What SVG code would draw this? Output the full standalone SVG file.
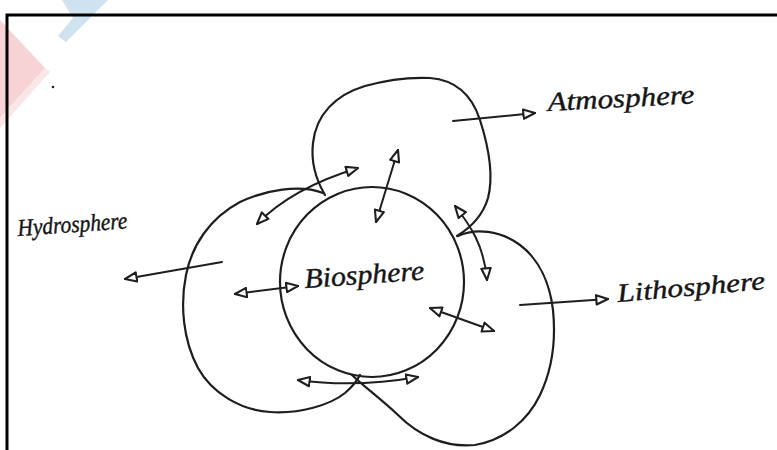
<svg xmlns="http://www.w3.org/2000/svg" width="777" height="450" viewBox="0 0 777 450">
  <style>
    .sphere { fill: none; stroke: #1e1e1e; stroke-width: 2.2; stroke-linecap: round; stroke-linejoin: round; }
    .link { fill: none; stroke: #1e1e1e; stroke-width: 2; stroke-linecap: round; }
    .label { font-family: "Liberation Serif", "DejaVu Serif", serif; font-style: italic; fill: #151515; stroke: #151515; stroke-width: 0.4; }
  </style>
  <defs>
    <marker id="head" viewBox="0 0 12 10" refX="11" refY="5" markerWidth="14" markerHeight="12" markerUnits="userSpaceOnUse" orient="auto-start-reverse">
      <path d="M1,1 L11,5 L1,9 Z" fill="#ffffff" stroke="#1e1e1e" stroke-width="1.8" stroke-linejoin="round"/>
    </marker>
  </defs>

  <rect width="777" height="450" fill="#ffffff"/>

  <!-- faint corner emblem -->
  <g id="emblem" opacity="0.9">
    <polygon points="0,20 45,68 0,118" fill="#f7cfd1"/>
    <polygon points="0,118 45,68 50,72 0,128" fill="#fbe4e5"/>
    <polygon points="62,0 108,0 66,42 58,36 73,18" fill="#c9dfee"/>
  </g>

  <!-- page frame -->
  <path d="M7,450 L7,15 L777,15" fill="none" stroke="#000000" stroke-width="3"/>
  <circle cx="53" cy="87" r="1.3" fill="#222222"/>

  <g id="atmosphere">
    <path class="sphere" d="M325,195 C315,178 311,160 313,143 C316,115 335,95 365,86 C390,79 410,77 430,78 C455,80 472,95 480,120 C488,145 494,175 488,198 C483,215 470,228 457,236"/>
    <text class="label" x="548" y="111" font-size="27" textLength="147" lengthAdjust="spacingAndGlyphs" transform="rotate(-3 548 111)">Atmosphere</text>
  </g>

  <g id="hydrosphere">
    <path class="sphere" d="M323,193 C300,184 265,190 240,202 C210,218 192,245 186,275 C180,305 183,340 198,368 C212,393 240,410 270,412 C300,414 330,405 345,393 C352,387 357,381 360,375"/>
    <text class="label" x="18" y="236" font-size="24" textLength="110" lengthAdjust="spacingAndGlyphs" transform="rotate(-4 18 236)">Hydrosphere</text>
  </g>

  <g id="lithosphere">
    <path class="sphere" d="M458,236 C475,228 500,230 520,245 C540,260 550,285 553,310 C556,340 552,370 540,395 C528,420 505,440 475,445 C445,448 418,435 398,415 C380,398 362,385 352,375"/>
    <text class="label" x="618" y="302" font-size="26" textLength="148" lengthAdjust="spacingAndGlyphs" transform="rotate(-5 618 302)">Lithosphere</text>
  </g>

  <g id="biosphere">
    <ellipse class="sphere" cx="372" cy="282" rx="92" ry="95"/>
    <text class="label" x="305" y="288" font-size="28" textLength="120" lengthAdjust="spacingAndGlyphs" transform="rotate(-4 305 288)">Biosphere</text>
  </g>

  <g id="connectors">
    <!-- label pointers -->
    <path class="link" d="M222,262 L125,279" marker-end="url(#head)"/>
    <path class="link" d="M453,121 L535,113" marker-end="url(#head)"/>
    <path class="link" d="M520,305 L608,299" marker-end="url(#head)"/>
    <!-- exchanges between spheres -->
    <path class="link" d="M235,294 L298,286" marker-start="url(#head)" marker-end="url(#head)"/>
    <path class="link" d="M398,150 L376,222" marker-start="url(#head)" marker-end="url(#head)"/>
    <path class="link" d="M257,224 Q292,188 358,168" marker-start="url(#head)" marker-end="url(#head)"/>
    <path class="link" d="M455,206 C470,225 484,245 487,280" marker-start="url(#head)" marker-end="url(#head)"/>
    <path class="link" d="M430,308 L494,331" marker-start="url(#head)" marker-end="url(#head)"/>
    <path class="link" d="M298,380 Q355,388 418,377" marker-start="url(#head)" marker-end="url(#head)"/>
  </g>
</svg>
